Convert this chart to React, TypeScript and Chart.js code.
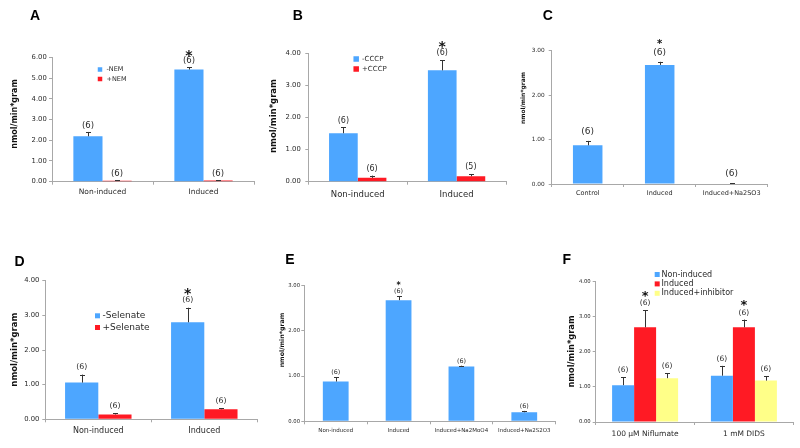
import React, { useEffect, useRef } from "react";
import { Chart, registerables } from "chart.js";

Chart.register(...registerables);

const FONT = "DejaVu Sans";
const LETTER_FONT = "Liberation Sans";
const BLUE = "#4DA6FF";
const RED = "#FF1A24";
const YELLOW = "#FFFF88";
const AXIS = "#A8A8A8";
const TEXT = "#2A2A2A";
const ERR = "#333333";

// ---------- Panel A ----------
const catsA = ["Non-induced", "Induced"];
const minusNEM = [2.19, 5.41];
const minusNEMErr = [0.21, 0.11];
const minusNEMn = [6, 6];
const minusNEMStar = [false, true];
const plusNEM = [0.05, 0.06];
const plusNEMErr = [0.02, 0.02];
const plusNEMn = [6, 6];
const plusNEMStar = [false, false];

// ---------- Panel B ----------
const catsB = ["Non-induced", "Induced"];
const minusCCCP = [1.51, 3.47];
const minusCCCPErr = [0.18, 0.32];
const minusCCCPn = [6, 6];
const minusCCCPStar = [false, true];
const plusCCCP = [0.12, 0.17];
const plusCCCPErr = [0.07, 0.07];
const plusCCCPn = [6, 5];
const plusCCCPStar = [false, false];

// ---------- Panel C ----------
const catsC = ["Control", "Induced", "Induced+Na2SO3"];
const valsC = [0.87, 2.68, 0.01];
const errC = [0.1, 0.07, 0.01];
const nC = [6, 6, 6];
const starC = [false, true, false];

// ---------- Panel D ----------
const catsD = ["Non-induced", "Induced"];
const minusSel = [1.06, 2.8];
const minusSelErr = [0.23, 0.42];
const minusSeln = [6, 6];
const minusSelStar = [false, true];
const plusSel = [0.14, 0.29];
const plusSelErr = [0.03, 0.03];
const plusSeln = [6, 6];
const plusSelStar = [false, false];

// ---------- Panel E ----------
const catsE = ["Non-induced", "Induced", "Induced+Na2MoO4", "Induced+Na2S2O3"];
const valsE = [0.88, 2.68, 1.21, 0.2];
const errE = [0.1, 0.09, 0.02, 0.03];
const nE = [6, 6, 6, 6];
const starE = [false, true, false, false];

// ---------- Panel F ----------
const catsF = ["100 μM Niflumate", "1 mM DIDS"];
const nonIndF = [1.05, 1.32];
const nonIndFErr = [0.23, 0.28];
const nonIndFn = [6, 6];
const nonIndFStar = [false, false];
const indF = [2.7, 2.7];
const indFErr = [0.48, 0.22];
const indFn = [6, 6];
const indFStar = [true, true];
const inhF = [1.25, 1.18];
const inhFErr = [0.14, 0.12];
const inhFn = [6, 6];
const inhFStar = [false, false];

const Y_TITLE = "nmol/min*gram";

interface Series {
  label: string;
  color: string;
  values: number[];
  errors: number[];
  n: number[];
  stars: boolean[];
}

interface PanelSpec {
  letter: string;
  letterPos: [number, number];
  categories: string[];
  series: Series[];
  yMax: number;
  area: { l: number; t: number; r: number; b: number };
  catPct: number;
  tickFont: number;
  tickPad: number;
  xFont: number;
  xPad: number;
  titleFont: number;
  titlePos: [number, number];
  nFont: number;
  nGap: number;
  starFont: number;
  starGap: number;
  legend?: { x: number; y: number; font: number; box: number; rowH: number; textX: number };
}

const panels: PanelSpec[] = [
  {
    letter: "A",
    letterPos: [35, 16],
    categories: catsA,
    series: [
      { label: "-NEM", color: BLUE, values: minusNEM, errors: minusNEMErr, n: minusNEMn, stars: minusNEMStar },
      { label: "+NEM", color: RED, values: plusNEM, errors: plusNEMErr, n: plusNEMn, stars: plusNEMStar },
    ],
    yMax: 6,
    area: { l: 52, t: 57.3, r: 254, b: 181.7 },
    catPct: 0.577,
    tickFont: 6.8,
    tickPad: 2.3,
    xFont: 7.5,
    xPad: 2.5,
    titleFont: 8,
    titlePos: [15, 114],
    nFont: 8.5,
    nGap: 6,
    starFont: 14,
    starGap: 9,
    legend: { x: 100, y: 69.5, font: 6.5, box: 4.5, rowH: 9.5, textX: 106.5 },
  },
  {
    letter: "B",
    letterPos: [297.7, 15.7],
    categories: catsB,
    series: [
      { label: "-CCCP", color: BLUE, values: minusCCCP, errors: minusCCCPErr, n: minusCCCPn, stars: minusCCCPStar },
      { label: "+CCCP", color: RED, values: plusCCCP, errors: plusCCCPErr, n: plusCCCPn, stars: plusCCCPStar },
    ],
    yMax: 4,
    area: { l: 308.3, t: 53.3, r: 506, b: 181.7 },
    catPct: 0.58,
    tickFont: 6.8,
    tickPad: 4.6,
    xFont: 8.5,
    xPad: 4.5,
    titleFont: 8.5,
    titlePos: [274, 116],
    nFont: 8,
    nGap: 6.7,
    starFont: 14,
    starGap: 10,
    legend: { x: 356.2, y: 59, font: 7, box: 5.5, rowH: 10, textX: 362 },
  },
  {
    letter: "C",
    letterPos: [547.7, 16],
    categories: catsC,
    series: [{ label: "", color: BLUE, values: valsC, errors: errC, n: nC, stars: starC }],
    yMax: 3,
    area: { l: 551.7, t: 50.7, r: 767.7, b: 184 },
    catPct: 0.41,
    tickFont: 5.8,
    tickPad: 4,
    xFont: 6.5,
    xPad: 2.4,
    titleFont: 6,
    titlePos: [523, 98],
    nFont: 9,
    nGap: 9.5,
    starFont: 10,
    starGap: 10.5,
  },
  {
    letter: "D",
    letterPos: [19.5, 261.7],
    categories: catsD,
    series: [
      { label: "-Selenate", color: BLUE, values: minusSel, errors: minusSelErr, n: minusSeln, stars: minusSelStar },
      { label: "+Selenate", color: RED, values: plusSel, errors: plusSelErr, n: plusSeln, stars: plusSelStar },
    ],
    yMax: 4,
    area: { l: 45.3, t: 280.7, r: 257.3, b: 419.3 },
    catPct: 0.627,
    tickFont: 6.8,
    tickPad: 3,
    xFont: 8,
    xPad: 3.9,
    titleFont: 8.5,
    titlePos: [14.5, 349.7],
    nFont: 7.8,
    nGap: 7.5,
    starFont: 14,
    starGap: 10,
    legend: { x: 97.5, y: 315.8, font: 9, box: 5, rowH: 11.7, textX: 102.5 },
  },
  {
    letter: "E",
    letterPos: [290, 260],
    categories: catsE,
    series: [{ label: "", color: BLUE, values: valsE, errors: errE, n: nE, stars: starE }],
    yMax: 3,
    area: { l: 304.3, t: 285.7, r: 555.7, b: 421.3 },
    catPct: 0.41,
    tickFont: 5.3,
    tickPad: 1.3,
    xFont: 5.5,
    xPad: 3.4,
    titleFont: 6.3,
    titlePos: [282.5, 340],
    nFont: 6.4,
    nGap: 4.5,
    starFont: 8,
    starGap: 8,
  },
  {
    letter: "F",
    letterPos: [566.7, 260],
    categories: catsF,
    series: [
      { label: "Non-induced", color: BLUE, values: nonIndF, errors: nonIndFErr, n: nonIndFn, stars: nonIndFStar },
      { label: "Induced", color: RED, values: indF, errors: indFErr, n: indFn, stars: indFStar },
      { label: "Induced+inhibitor", color: YELLOW, values: inhF, errors: inhFErr, n: inhFn, stars: inhFStar },
    ],
    yMax: 4,
    area: { l: 595.7, t: 281.7, r: 793.3, b: 422 },
    catPct: 0.668,
    tickFont: 5.3,
    tickPad: 2,
    xFont: 7.5,
    xPad: 4.8,
    titleFont: 8.3,
    titlePos: [571.5, 351.5],
    nFont: 7.5,
    nGap: 7,
    starFont: 13,
    starGap: 10,
    legend: { x: 657.2, y: 274.5, font: 8, box: 5, rowH: 9.4, textX: 661.5 },
  },
];

const Y_W = 40;
const X_H = 28;
const W = 800;
const H = 448;

function annotPlugin(s: PanelSpec) {
  return {
    id: "annot" + s.letter,
    afterDatasetsDraw(chart: any) {
      const ctx: CanvasRenderingContext2D = chart.ctx;
      const y = chart.scales.y;
      ctx.save();
      s.series.forEach((se, di) => {
        const meta = chart.getDatasetMeta(di);
        meta.data.forEach((bar: any, j: number) => {
          const v = se.values[j];
          const e = se.errors[j];
          const x = bar.x;
          const yTop = y.getPixelForValue(v);
          const yErr = y.getPixelForValue(v + e);
          if (e > 0) {
            ctx.strokeStyle = ERR;
            ctx.lineWidth = 1;
            ctx.beginPath();
            ctx.moveTo(Math.round(x) + 0.5, yTop);
            ctx.lineTo(Math.round(x) + 0.5, yErr);
            ctx.moveTo(Math.round(x) - 2, Math.round(yErr) + 0.5);
            ctx.lineTo(Math.round(x) + 3, Math.round(yErr) + 0.5);
            ctx.stroke();
          }
          const ny = yErr - s.nGap;
          ctx.fillStyle = TEXT;
          ctx.textAlign = "center";
          ctx.textBaseline = "middle";
          ctx.font = `${s.nFont}px "${FONT}"`;
          ctx.fillText(`(${se.n[j]})`, x, ny);
          if (se.stars[j]) {
            ctx.font = `bold ${s.starFont}px "${FONT}"`;
            ctx.textBaseline = "alphabetic";
            ctx.fillStyle = "#111";
            ctx.fillText("*", x, ny - s.starGap + 0.53 * s.starFont);
          }
        });
      });
      ctx.restore();
    },
    afterDraw(chart: any) {
      const ctx: CanvasRenderingContext2D = chart.ctx;
      ctx.save();
      // panel letter
      ctx.fillStyle = "#000";
      ctx.textAlign = "center";
      ctx.textBaseline = "middle";
      ctx.font = `bold 14px "${LETTER_FONT}"`;
      ctx.fillText(s.letter, s.letterPos[0], s.letterPos[1]);
      // y title
      ctx.save();
      ctx.translate(s.titlePos[0], s.titlePos[1]);
      ctx.rotate(-Math.PI / 2);
      ctx.font = `bold ${s.titleFont}px "${FONT}"`;
      ctx.fillStyle = "#111";
      ctx.fillText(Y_TITLE, 0, 0);
      ctx.restore();
      // legend
      if (s.legend) {
        const lg = s.legend;
        s.series.forEach((se, i) => {
          const cy = lg.y + i * lg.rowH;
          ctx.fillStyle = se.color;
          ctx.fillRect(lg.x - lg.box / 2, cy - lg.box / 2, lg.box, lg.box);
          ctx.fillStyle = TEXT;
          ctx.textAlign = "left";
          ctx.textBaseline = "middle";
          ctx.font = `${lg.font}px "${FONT}"`;
          ctx.fillText(se.label, lg.textX, cy);
        });
      }
      ctx.restore();
    },
  };
}

function buildConfig(s: PanelSpec): any {
  const { l, t, r, b } = s.area;
  const gridOpts = {
    display: true,
    drawOnChartArea: false,
    drawTicks: true,
    tickLength: 3,
    color: AXIS,
    lineWidth: 1,
  };
  return {
    type: "bar",
    data: {
      labels: s.categories,
      datasets: s.series.map((se) => ({
        label: se.label,
        data: se.values,
        backgroundColor: se.color,
        borderWidth: 0,
        categoryPercentage: s.catPct,
        barPercentage: 1,
      })),
    },
    options: {
      animation: false,
      responsive: false,
      maintainAspectRatio: false,
      events: [],
      layout: {
        autoPadding: false,
        padding: { left: l - Y_W, top: t, right: W - r, bottom: H - b - X_H },
      },
      plugins: {
        legend: { display: false },
        tooltip: { enabled: false },
        title: { display: false },
      },
      scales: {
        x: {
          grid: { ...gridOpts, offset: true },
          border: { display: true, color: AXIS, width: 1 },
          ticks: {
            font: { family: FONT, size: s.xFont },
            color: TEXT,
            padding: s.xPad,
            autoSkip: false,
            maxRotation: 0,
            minRotation: 0,
          },
          afterFit: (sc: any) => {
            sc.height = X_H;
          },
        },
        y: {
          min: 0,
          max: s.yMax,
          grid: gridOpts,
          border: { display: true, color: AXIS, width: 1 },
          ticks: {
            stepSize: 1,
            font: { family: FONT, size: s.tickFont },
            color: TEXT,
            padding: s.tickPad,
            callback: (v: any) => Number(v).toFixed(2),
          },
          afterFit: (sc: any) => {
            sc.width = Y_W;
          },
        },
      },
    },
    plugins: [annotPlugin(s)],
  };
}

function Panel({ spec }: { spec: PanelSpec }) {
  const ref = useRef<HTMLCanvasElement | null>(null);
  useEffect(() => {
    if (!ref.current) return;
    const chart = new Chart(ref.current, buildConfig(spec));
    return () => chart.destroy();
  }, [spec]);
  return (
    <canvas
      ref={ref}
      width={W}
      height={H}
      style={{ position: "absolute", left: 0, top: 0, width: W, height: H }}
    />
  );
}

export default function App() {
  return (
    <div
      style={{
        position: "absolute",
        left: 0,
        top: 0,
        width: W,
        height: H,
        background: "#fff",
        overflow: "hidden",
      }}
    >
      {panels.map((p) => (
        <Panel key={p.letter} spec={p} />
      ))}
    </div>
  );
}
